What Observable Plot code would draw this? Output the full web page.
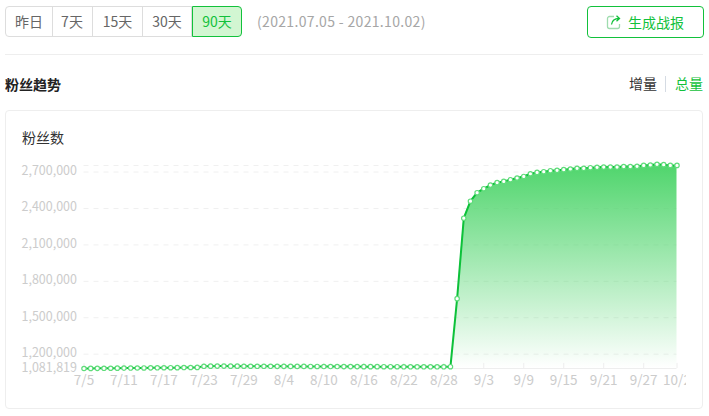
<!DOCTYPE html>
<html lang="zh">
<head>
<meta charset="utf-8">
<script src="https://cdn.jsdelivr.net/npm/d3@7"></script>
<script src="https://cdn.jsdelivr.net/npm/@observablehq/plot@0.6"></script>
<style>
html,body{margin:0;padding:0;background:#fff;width:709px;height:416px;overflow:hidden;font-family:"Noto Sans CJK SC","Noto Sans",sans-serif}
.abs{position:absolute;white-space:nowrap}
.seg{position:absolute;top:6px;height:29px;border:1px solid #ddd;border-left:none;box-sizing:content-box;text-align:center;line-height:29px;font-size:14px;color:#666}
.seg.first{border-left:1px solid #ddd;border-radius:4px 0 0 4px}
.seg.on{background:#d2f6d2;border:1px solid #12c13b;border-radius:0 4px 4px 0;color:#12c13b}
#chart{position:absolute;left:0;top:0}
#chart svg{overflow:hidden;background:transparent;display:block}
</style>
</head>
<body>
<div id="chrome"></div>
<div class="abs" style="left:5px;top:54px;width:698px;height:1px;background:#eee"></div>
<div class="abs" style="left:257px;top:10px;line-height:22px;font-size:14px;letter-spacing:.33px;color:#a6a6a6" id="range"></div>
<div class="abs" style="left:587px;top:6px;width:115px;height:30px;border:1px solid #12c13b;border-radius:4px"></div>
<svg class="abs" style="left:605px;top:14px" width="17" height="17" viewBox="0 0 17 17" fill="none" stroke="#12c13b" stroke-width="1.3">
  <path d="M9 2.5H4.5a2 2 0 0 0-2 2v8a2 2 0 0 0 2 2h8a2 2 0 0 0 2-2V10" stroke="#9fdcae"/>
  <path d="M6.5 10.5C7 7 9.5 4.5 14 4.5M11.5 1.8 14.5 4.5 11.5 7.2"/>
</svg>
<div class="abs" style="left:628px;top:11px;line-height:22px;font-size:14px;color:#12c13b" id="report"></div>
<div class="abs" style="left:5px;top:74px;line-height:20px;font-size:14px;font-weight:700;color:#222" id="section"></div>
<div class="abs" style="left:629px;top:73px;line-height:20px;font-size:14px;color:#333" id="inc"></div>
<div class="abs" style="left:665px;top:76px;width:1px;height:16px;background:#d5dbe3"></div>
<div class="abs" style="left:675px;top:73px;line-height:20px;font-size:14px;color:#12c13b" id="tot"></div>
<div class="abs" style="left:5px;top:110px;width:696px;height:297px;border:1px solid #eee;border-radius:4px"></div>
<div class="abs" style="left:22px;top:127px;line-height:20px;font-size:14px;color:#333" id="ylabel"></div>
<div id="chart"></div>
<script>
const rangeLabels = ["昨日","7天","15天","30天","90天"];
const rangeEdges = [5,52,93,143,192,241];
const dateRangeText = "(2021.07.05 - 2021.10.02)";
const reportText = "生成战报";
const sectionTitle = "粉丝趋势";
const increaseText = "增量";
const totalText = "总量";
const yTitle = "粉丝数";
const yTicks = [1081819,1200000,1500000,1800000,2100000,2400000,2700000];
const yTop = 2754000;
const xTickLabels = ["7/5","7/11","7/17","7/23","7/29","8/4","8/10","8/16","8/22","8/28","9/3","9/9","9/15","9/21","9/27","10/2"];
const fans = [
 1081819,1082500,1083000,1083500,1084000,1084500,1085000,1085500,1086000,1086500,1087000,1087500,1088000,1088500,1089000,1089500,1090000,1091000,
 1100000,1101000,1101500,1101500,1101000,1101000,1100500,1100500,1100000,1100000,1100000,1099500,1099500,1099000,1099000,1099000,1098500,1098500,
 1098000,1098000,1098000,1097500,1097500,1097500,1097000,1097000,1097000,1096500,1096500,1096500,1096000,1096000,1096000,1096000,1096000,1096000,
 1096000,1096500,
 1657000,
 2320000,2460000,2530000,2563000,2593000,2613000,2623000,2637000,2651000,2664000,2686000,2697000,2703000,2711000,2714000,
 2720000,2725000,2731000,2731000,2736000,2739000,2741000,2741000,2741000,2745000,2745000,2747000,2755000,2758000,2764000,2761000,2755000,2755000
];
const startDay = new Date(Date.UTC(2021,6,5));
const rows = fans.map((v,i)=>({date:d3.utcDay.offset(startDay,i),v}));
const tickDates = xTickLabels.map((_,i)=> i===xTickLabels.length-1 ? rows[rows.length-1].date : rows[i*6].date);
const labelOf = new Map(tickDates.map((d,i)=>[+d,xTickLabels[i]]));

// page chrome
const host=document.getElementById("chrome");
rangeLabels.forEach((t,i)=>{
  const d=document.createElement("div");
  d.className="seg"+(i===0?" first":"")+(i===rangeLabels.length-1?" on":"");
  d.style.left=rangeEdges[i]+"px";
  d.style.width=(rangeEdges[i+1]-rangeEdges[i]-1)+"px";
  d.textContent=t;
  host.appendChild(d);
});
document.getElementById("range").textContent=dateRangeText;
document.getElementById("report").textContent=reportText;
document.getElementById("section").textContent=sectionTitle;
document.getElementById("inc").textContent=increaseText;
document.getElementById("tot").textContent=totalText;
document.getElementById("ylabel").textContent=yTitle;

const gradient = () => {
  const s=d3.create("svg:defs");
  const g=s.append("linearGradient").attr("id","fanFill").attr("x1",0).attr("y1",0).attr("x2",0).attr("y2",1);
  g.append("stop").attr("offset","0%").attr("stop-color","#4fd56c");
  g.append("stop").attr("offset","100%").attr("stop-color","#4fd56c").attr("stop-opacity",0);
  return s.node();
};
const tickTop = 1081819+42000;
const chart = Plot.plot({
  width:686,height:416,
  marginLeft:83.5,marginRight:9.5,marginTop:165,marginBottom:48,
  style:{background:"transparent",fontFamily:'"Noto Sans CJK SC","Noto Sans",sans-serif',fontSize:"13px"},
  x:{type:"utc",domain:[rows[0].date,rows[rows.length-1].date]},
  y:{domain:[1081819,yTop]},
  marks:[
    gradient,
    Plot.ruleY(yTicks.slice(1).concat([yTop]),{stroke:"#f0f0f0",strokeDasharray:"5 5"}),
    Plot.areaY(rows,{x:"date",y1:()=>1081819,y2:"v",fill:"url(#fanFill)"}),
    Plot.ruleY([1081819],{stroke:"#eeeeee"}),
    Plot.ruleX(tickDates,{x:d=>d,y1:()=>1081819,y2:()=>tickTop,stroke:"#eeeeee"}),
    Plot.line(rows,{x:"date",y:"v",stroke:"#0dc13a",strokeWidth:2}),
    Plot.dot(rows,{x:"date",y:"v",r:2.2,fill:"#fff",stroke:"#5fdc7a",strokeWidth:1.2}),
    Plot.axisX({ticks:tickDates,tickSize:0,tickPadding:7,tickFormat:d=>labelOf.get(+d),color:"#cccccc",fontSize:13.5,label:null}),
    Plot.axisY({ticks:yTicks,tickSize:0,tickPadding:7,dy:-1,tickFormat:d3.format(","),color:"#cccccc",fontSize:12.5,label:null})
  ]
});
document.getElementById("chart").appendChild(chart);
</script>
</body>
</html>
